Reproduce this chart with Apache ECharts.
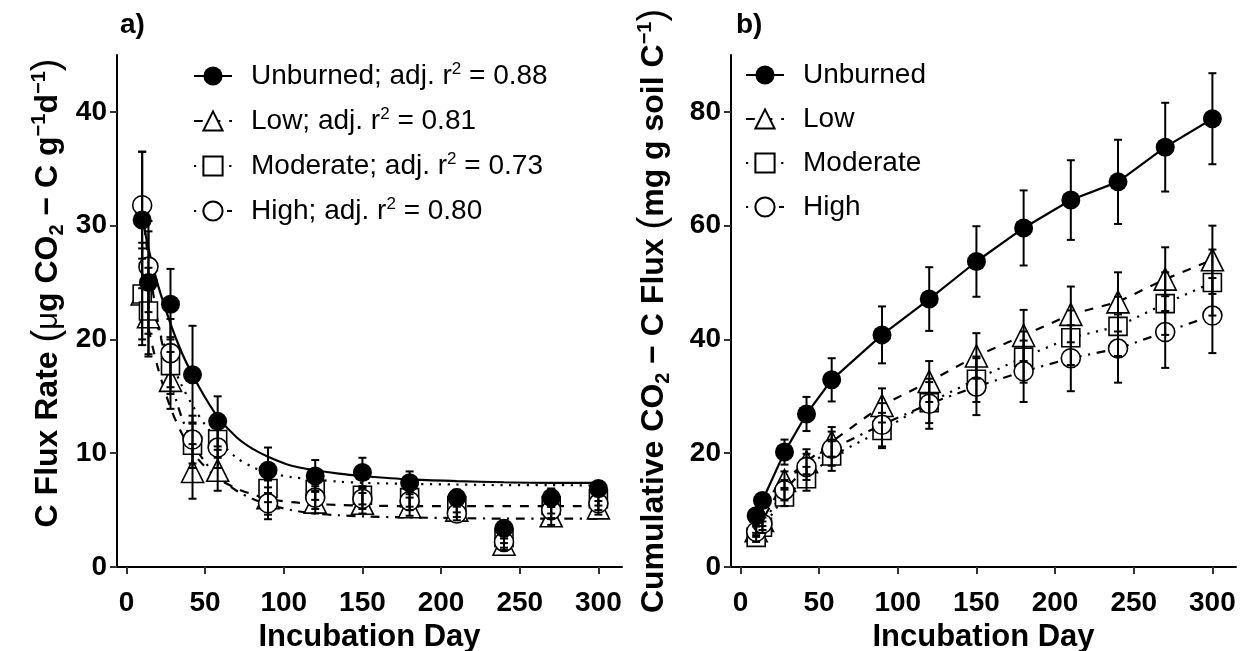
<!DOCTYPE html>
<html><head><meta charset="utf-8">
<script src="https://cdn.jsdelivr.net/npm/echarts@6/dist/echarts.min.js"></script>
<style>html,body{margin:0;padding:0;background:#fff}#c{width:1248px;height:651px}</style>
</head><body><div id="c"></div>
<script>
const days = [10,14,28,42,58,90,120,150,180,210,240,270,300];
const treatments = ['Unburned','Low','Moderate','High'];
const r2Labels = ['0.88','0.81','0.73','0.80'];
const xTicks = [0,50,100,150,200,250,300];
const rateYTicks = [0,10,20,30,40];
const cumYTicks = [0,20,40,60,80];

// Panel a) C flux rate: means and error (SE)
const rateUnburned = [30.5,25.0,23.1,16.9,12.8,8.5,8.0,8.3,7.4,6.1,3.4,6.1,6.9];
const rateLow      = [24.0,22.0,16.4,8.4,8.5,6.1,5.7,5.6,5.3,5.0,2.0,4.5,5.2];
const rateModerate = [24.0,22.5,17.7,10.7,11.2,6.9,6.8,6.3,6.1,5.4,2.6,5.4,6.0];
const rateHigh     = [31.8,26.4,18.8,11.2,10.5,5.6,6.1,6.0,5.8,4.7,2.2,5.0,5.6];
const rateErrUnburned = [6.0,4.5,3.1,4.3,2.2,2.0,1.4,1.3,1.0,0.7,0.7,0.8,0.6];
const rateErrLow      = [4.0,3.5,2.5,2.4,1.8,1.5,1.0,0.9,0.8,0.6,0.5,0.8,0.6];
const rateErrModerate = [4.5,3.8,2.5,2.0,1.6,1.2,0.9,0.8,0.8,0.6,0.5,0.7,0.6];
const rateErrHigh     = [4.7,4.0,3.0,2.1,1.8,1.4,1.0,0.9,0.8,0.6,0.5,0.7,0.6];

// Panel a) fitted curves (read off the picture)
const curveDays = [10,14,20,28,35,42,50,58,70,80,90,105,120,135,150,180,210,240,270,300];
const curveUnburned = [30.8,28.0,24.8,21.4,18.9,16.9,14.9,13.2,11.4,10.4,9.7,8.9,8.5,8.2,8.0,7.7,7.55,7.45,7.4,7.4];
const curveLow      = [24.0,21.0,17.5,14.0,11.8,10.1,8.8,7.8,6.9,6.4,6.0,5.7,5.55,5.45,5.4,5.35,5.35,5.35,5.35,5.35];
const curveModerate = [25.5,23.5,21.0,18.2,16.0,14.2,12.5,11.2,9.6,8.8,8.3,7.9,7.7,7.5,7.4,7.3,7.25,7.2,7.2,7.15];
const curveHigh     = [31.5,27.0,21.5,16.5,13.2,11.0,9.2,8.0,6.7,6.0,5.5,5.0,4.7,4.55,4.45,4.35,4.3,4.25,4.25,4.25];

// Panel b) cumulative CO2-C flux: means and error
const cumUnburned = [9.0,11.7,20.2,26.9,32.9,40.8,47.1,53.7,59.6,64.5,67.7,73.8,78.8];
const cumLow      = [6.4,8.2,15.2,18.5,22.0,28.4,32.6,37.1,40.7,44.4,46.6,50.6,54.0];
const cumModerate = [5.2,7.0,12.3,15.5,19.5,24.0,28.9,33.0,36.9,40.3,42.3,46.3,50.0];
const cumHigh     = [6.2,7.6,13.5,17.6,20.8,25.0,28.7,31.7,34.4,36.7,38.4,41.3,44.2];
const cumErrUnburned = [1.0,1.2,2.2,3.0,3.8,5.0,5.6,6.2,6.6,7.0,7.4,7.8,8.0];
const cumErrLow      = [0.8,1.0,1.6,2.2,2.6,3.0,3.6,4.0,4.5,4.9,5.2,5.6,6.0];
const cumErrModerate = [0.8,1.0,1.6,2.1,2.6,3.1,3.6,4.0,4.5,4.8,5.2,5.5,5.8];
const cumErrHigh     = [0.9,1.1,1.8,2.3,3.0,3.8,4.4,5.0,5.4,5.8,6.0,6.3,6.6];

const rateMeans = [rateUnburned, rateLow, rateModerate, rateHigh];
const rateErrs = [rateErrUnburned, rateErrLow, rateErrModerate, rateErrHigh];
const rateCurves = [curveUnburned, curveLow, curveModerate, curveHigh];
const cumMeans = [cumUnburned, cumLow, cumModerate, cumHigh];
const cumErrs = [cumErrUnburned, cumErrLow, cumErrModerate, cumErrHigh];

const FONT = '"Liberation Sans", Arial, Helvetica, sans-serif';
const LW = 2.2;
const styles = [
  {symbol:'circle', size:19, fill:'#000', dash:'solid'},
  {symbol:'triangle', size:22, fill:'#fff', dash:[8.8,8.8]},
  {symbol:'rect', size:18, fill:'#fff', dash:[2.2,6.6]},
  {symbol:'circle', size:19, fill:'#fff', dash:[2.2,6.6,8.8,6.6]}
];

function errRender(params, api){
  const x = api.value(0), lo = api.value(1), hi = api.value(2);
  const p1 = api.coord([x, lo]), p2 = api.coord([x, hi]);
  const w = 4;
  const st = {stroke:'#000', lineWidth:2, fill:null};
  return {type:'group', children:[
    {type:'line', shape:{x1:p1[0],y1:p1[1],x2:p2[0],y2:p2[1]}, style:st},
    {type:'line', shape:{x1:p1[0]-w,y1:p1[1],x2:p1[0]+w,y2:p1[1]}, style:st},
    {type:'line', shape:{x1:p2[0]-w,y1:p2[1],x2:p2[0]+w,y2:p2[1]}, style:st}
  ]};
}

const series = [];
function addPanel(panel, means, errs, curves){
  treatments.forEach((t, i) => {
    const s = styles[i];
    const itemStyle = {color:s.fill, borderColor:'#000', borderWidth: i === 0 ? 0 : 1.6, opacity:1};
    const lineData = curves ? curveDays.map((d, j) => [d, curves[i][j]]) : days.map((d, j) => [d, means[i][j]]);
    series.push({
      type:'line', name:t, xAxisIndex:panel, yAxisIndex:panel,
      data: lineData, showSymbol:false, symbol:s.symbol, symbolSize:s.size,
      smooth: curves ? 0.3 : false,
      itemStyle, lineStyle:{color:'#000', width:LW, type:s.dash}, z:2, silent:true
    });
    series.push({
      type:'scatter', name:t, xAxisIndex:panel, yAxisIndex:panel,
      data: days.map((d, j) => [d, means[i][j]]), symbol:s.symbol, symbolSize:s.size,
      itemStyle, z: i === 0 ? 4 : 3, silent:true
    });
    series.push({
      type:'custom', name:t, xAxisIndex:panel, yAxisIndex:panel,
      data: days.map((d, j) => [d, means[i][j] - errs[i][j], means[i][j] + errs[i][j]]),
      encode:{x:0, y:[1,2]}, renderItem: errRender, z:5, silent:true
    });
  });
}
addPanel(0, rateMeans, rateErrs, rateCurves);
addPanel(1, cumMeans, cumErrs, null);

function xAxis(gi){
  return {
    type:'value', gridIndex:gi, min:-6, max:315,
    name:'Incubation Day', nameLocation:'middle', nameGap:50,
    nameTextStyle:{fontFamily:FONT, fontSize:31, fontWeight:'bold', color:'#000'},
    axisLine:{show:true, onZero:false, lineStyle:{color:'#000', width:2}},
    axisTick:{show:true, length:7, customValues:xTicks, lineStyle:{color:'#333', width:2}},
    axisLabel:{customValues:xTicks, fontFamily:FONT, fontSize:28, fontWeight:'bold', color:'#000', margin:22},
    splitLine:{show:false}
  };
}
function yAxis(gi, max, ticks, name, gap, pad){
  return {
    type:'value', gridIndex:gi, min:0, max:max,
    name:name, nameLocation:'middle', nameRotate:90, nameGap:gap,
    nameTextStyle:{
      fontFamily:FONT, color:'#000', padding:pad,
      rich:{
        b:{fontFamily:FONT, fontSize:32, fontWeight:'bold', color:'#000', lineHeight:38},
        m:{fontFamily:FONT, fontSize:31, color:'#000', lineHeight:38},
        p:{fontFamily:FONT, fontSize:38, color:'#000', lineHeight:38},
        sub:{fontFamily:FONT, fontSize:20, fontWeight:'bold', color:'#000', verticalAlign:'bottom', lineHeight:19},
        sup:{fontFamily:FONT, fontSize:20, fontWeight:'bold', color:'#000', verticalAlign:'top', lineHeight:19}
      }
    },
    axisLine:{show:true, onZero:false, lineStyle:{color:'#000', width:2}},
    axisTick:{show:true, length:7, customValues:ticks, lineStyle:{color:'#333', width:2}},
    axisLabel:{customValues:ticks, fontFamily:FONT, fontSize:28, fontWeight:'bold', color:'#000', margin:10},
    splitLine:{show:false}
  };
}

const legendRich = {
  t:{fontFamily:FONT, fontSize:28, color:'#000', lineHeight:30},
  s:{fontFamily:FONT, fontSize:17, color:'#000', verticalAlign:'top', lineHeight:17}
};

const option = {
  animation:false,
  backgroundColor:'#fff',
  title:[
    {text:'a)', left:115, top:6, textStyle:{fontFamily:FONT, fontSize:28, fontWeight:'bold', color:'#000'}},
    {text:'b)', left:731, top:6, textStyle:{fontFamily:FONT, fontSize:28, fontWeight:'bold', color:'#000'}}
  ],
  grid:[
    {left:117, top:55, width:505, height:512, outerBoundsMode:'none', containLabel:false},
    {left:731, top:55, width:505, height:512, outerBoundsMode:'none', containLabel:false}
  ],
  xAxis:[xAxis(0), xAxis(1)],
  yAxis:[
    yAxis(0, 45, rateYTicks, '{b|C Flux Rate }{p|(}{m|μ}{b|g CO}{sub|2}{b| − C g}{sup|−1}{b|d}{sup|−1}{p|)}', 50, [0,0,0,36]),
    yAxis(1, 90, cumYTicks, '{b|Cumulative CO}{sub|2}{b| − C Flux }{p|(}{b|mg g soil C}{sup|−1}{p|)}', 58, 0)
  ],
  legend:[
    {
      data:treatments, left:188, top:56, orient:'vertical', itemWidth:38, itemHeight:24, itemGap:16,
      selectedMode:false,
      formatter: name => `{t|${name}; adj. r}{s|2}{t| = ${r2Labels[treatments.indexOf(name)]}}`,
      textStyle:{fontFamily:FONT, fontSize:28, color:'#000', padding:[0,0,0,14], rich:legendRich}
    },
    {
      data:treatments, left:740, top:56, orient:'vertical', itemWidth:38, itemHeight:24, itemGap:16,
      selectedMode:false,
      formatter: name => `{t|${name}}`,
      textStyle:{fontFamily:FONT, fontSize:28, color:'#000', padding:[0,0,0,14], rich:legendRich}
    }
  ],
  series
};
const chart = echarts.init(document.getElementById('c'));
chart.setOption(option);
</script></body></html>
